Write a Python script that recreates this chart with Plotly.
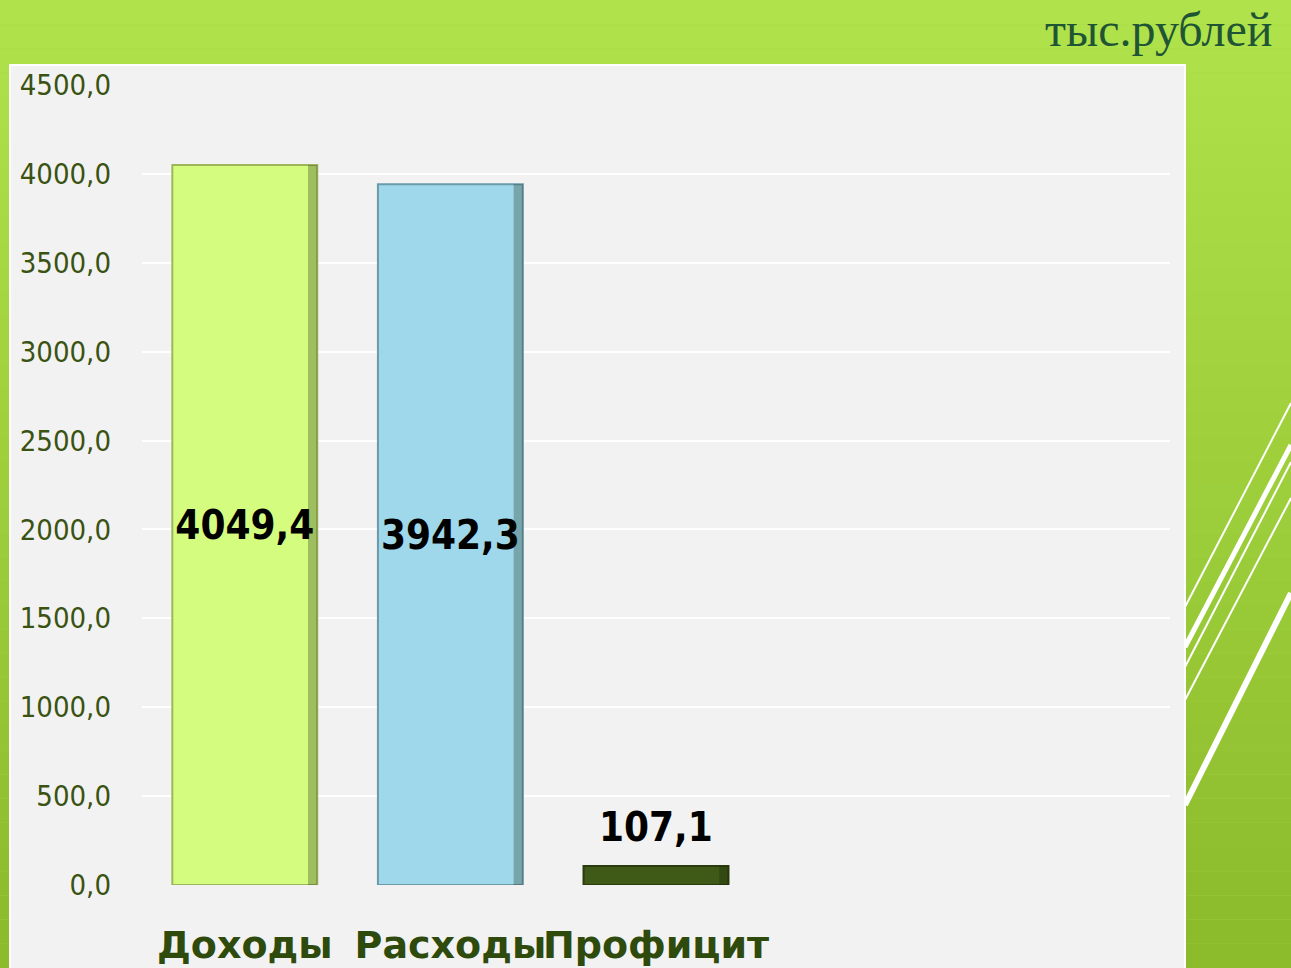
import plotly.graph_objects as go

W, H = 1291, 968

categories = ["Доходы", "Расходы", "Профицит"]
values = [4049.4, 3942.3, 107.1]
bar_colors = ["#D4FD80", "#9ED8EA", "#3F5A16"]
bar_line_colors = ["#9DB65A", "#6B9AAA", "#2A3C0E"]
label_inside = [True, True, False]
y_ticks = [0, 500, 1000, 1500, 2000, 2500, 3000, 3500, 4000, 4500]
unit_title = "тыс.рублей"

BAR_W = 0.705
SHADOW_W = 0.045
LABEL_FONT = dict(family="DejaVu Sans Condensed, Liberation Sans Narrow, DejaVu Sans", size=40, color="#000000")


def px(x):
    return x / W


def py(y):
    return 1 - y / H


def fmt(v):
    return ("%.1f" % v).replace(".", ",")


fig = go.Figure()
fig.add_trace(go.Bar(
    x=categories,
    y=values,
    width=BAR_W,
    offset=-BAR_W / 2,
    marker=dict(color=bar_colors, line=dict(color=bar_line_colors, width=2)),
    text=["<b>%s</b>" % fmt(v) if ins else "" for v, ins in zip(values, label_inside)],
    textposition="inside",
    insidetextanchor="middle",
    textangle=0,
    textfont=LABEL_FONT,
    cliponaxis=False,
    hoverinfo="skip",
))
# right-edge shading of the bevelled bars
fig.add_trace(go.Bar(
    x=categories,
    y=values,
    width=SHADOW_W,
    offset=BAR_W / 2 - SHADOW_W,
    marker=dict(color="rgba(20,30,10,0.28)", line=dict(width=0)),
    hoverinfo="skip",
))

annotations = [dict(
    text=unit_title, xref="paper", yref="paper",
    x=px(1274), y=py(30), xanchor="right", yanchor="middle",
    showarrow=False,
    font=dict(family="Liberation Serif, DejaVu Serif", size=48, color="#1F5535"),
)]
for c, v, ins in zip(categories, values, label_inside):
    if not ins:
        annotations.append(dict(x=c, y=v, xref="x", yref="y", text="<b>%s</b>" % fmt(v),
                                showarrow=False, yanchor="bottom", yshift=14, font=LABEL_FONT))

shapes = []
n = 40
c0 = (0xB0, 0xE3, 0x4B)
c1 = (0x8C, 0xBB, 0x2C)
for i in range(n):
    t = i / (n - 1)
    c = tuple(int(c0[k] + (c1[k] - c0[k]) * t) for k in range(3))
    shapes.append(dict(type="rect", xref="paper", yref="paper",
                       x0=0, x1=1, y0=1 - (i + 1) / n, y1=1 - i / n,
                       fillcolor="rgb(%d,%d,%d)" % c, line=dict(width=0), layer="below"))
diag = [((1291, 403), (1185, 607), 2), ((1291, 445), (1185, 647), 5),
        ((1291, 462), (1185, 667), 2), ((1291, 498), (1185, 700), 2),
        ((1291, 593), (1185, 805), 6)]
for (a, b, w) in diag:
    shapes.append(dict(type="line", xref="paper", yref="paper",
                       x0=px(a[0]), y0=py(a[1]), x1=px(b[0]), y1=py(b[1]),
                       line=dict(color="white", width=w), layer="below"))
shapes.append(dict(type="rect", xref="paper", yref="paper",
                   x0=px(10), x1=px(1185), y0=-0.01, y1=py(65),
                   fillcolor="#F2F2F2", line=dict(color="white", width=2), layer="below"))

fig.update_layout(
    width=W, height=H,
    autosize=False,
    margin=dict(l=0, r=0, t=0, b=0, pad=0, autoexpand=False),
    paper_bgcolor="#A6D63F",
    plot_bgcolor="rgba(0,0,0,0)",
    separators=", ",
    showlegend=False,
    barmode="overlay",
    shapes=shapes,
    annotations=annotations,
    xaxis=dict(
        domain=[px(142), px(1170)],
        range=[-0.5, 4.5],
        type="category",
        automargin=False,
        showgrid=False, zeroline=False, showline=False,
        ticks="",
        tickangle=0,
        tickfont=dict(family="DejaVu Sans, Lato", size=38, color="#2E4A0C", weight="bold"),
        ticklabelstandoff=34,
        fixedrange=True,
    ),
    yaxis=dict(
        domain=[py(885), py(85)],
        range=[0, 4500],
        automargin=False,
        tickvals=y_ticks,
        tickformat=".1f",
        showgrid=True, gridcolor="#FFFFFF", gridwidth=2,
        zeroline=False, showline=False, ticks="",
        tickfont=dict(family="DejaVu Sans Condensed, Liberation Sans Narrow, DejaVu Sans", size=29, color="#3A5212"),
        ticklabelstandoff=30,
        fixedrange=True,
    ),
)

fig.write_html("out.html", config={"displayModeBar": False},
               post_script="document.body.style.margin='0';document.body.style.overflow='hidden';")
